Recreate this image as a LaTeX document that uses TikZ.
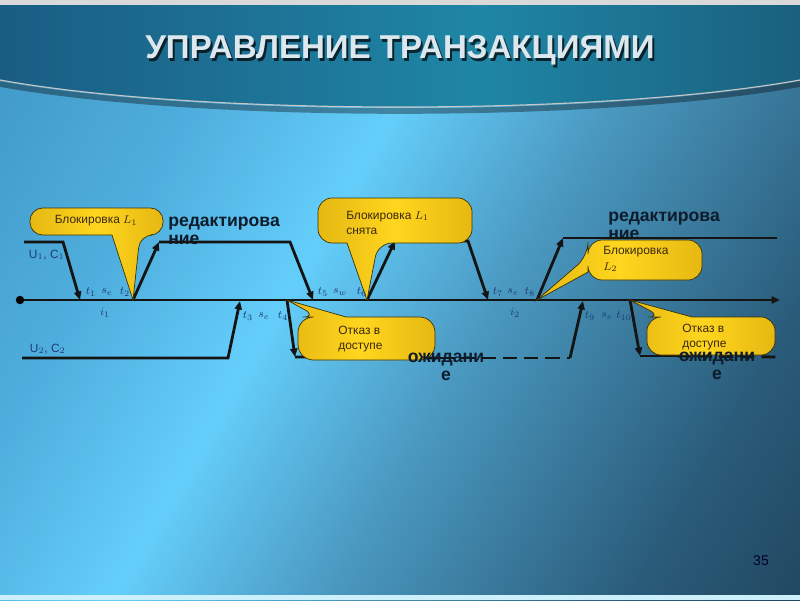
\documentclass[tikz,border=0pt]{standalone}
\usepackage{fontspec}
\setmainfont{Liberation Sans}
\usetikzlibrary{arrows.meta}

\definecolor{bgA}{HTML}{2F7FAE}
\definecolor{bgB}{HTML}{4FAEDD}
\definecolor{bgC}{HTML}{64CEFA}
\definecolor{bgD}{HTML}{4A98C0}
\definecolor{bgE}{HTML}{2A5C7A}
\definecolor{bgF}{HTML}{15293A}
\definecolor{bandA}{HTML}{163A66}
\definecolor{bandB}{HTML}{1F86A6}
\definecolor{bandC}{HTML}{152F4C}
\definecolor{goldA}{HTML}{B0860A}
\definecolor{goldB}{HTML}{E6B812}
\definecolor{goldC}{HTML}{FFD61E}
\definecolor{goldD}{HTML}{9A7806}
\definecolor{bubbleedge}{HTML}{3A3208}
\definecolor{bubbleink}{HTML}{3A2810}
\definecolor{labelblue}{HTML}{1D3D74}
\definecolor{inkdark}{HTML}{0D1B2B}
\definecolor{titlewhite}{HTML}{DCE8EE}

\pgfdeclarehorizontalshading{slidebg}{100bp}{color(0bp)=(bgA); color(31bp)=(bgB); color(43bp)=(bgC); color(56bp)=(bgD); color(74bp)=(bgE); color(100bp)=(bgF)}
\pgfdeclarehorizontalshading{bandbg}{100bp}{color(0bp)=(bandA); color(55bp)=(bandB); color(100bp)=(bandC)}
\pgfdeclarehorizontalshading{goldbar}{100bp}{color(0bp)=(goldA); color(25bp)=(goldB); color(50bp)=(goldC); color(75bp)=(goldB); color(100bp)=(goldD)}

\begin{document}
\begin{tikzpicture}[
  x=0.025cm,
  y=-0.025cm,
  >={Triangle[length=6pt,width=5pt]},
  track/.style={line width=2pt, draw=black!92},
  bubble/.style={shade, shading=goldbar, draw=bubbleedge, line width=0.5pt},
  bubbletext/.style={text=bubbleink, font=\fontsize{8.5}{11}\selectfont, align=left, inner sep=0pt},
  tlabel/.style={text=labelblue, font=\fontsize{8}{9}\selectfont, inner sep=0pt},
  state/.style={text=inkdark, font=\fontsize{12.5}{12.3}\bfseries, inner sep=0pt},
]
\useasboundingbox (0,0) rectangle (800,600);
\shade[shading=slidebg, shading angle=-30] (0,0) rectangle (800,600);
\fill[white!80!cyan] (0,595) rectangle (800,600);
\shade[shading=bandbg] (0,0) -- (800,0) -- (800,80) .. controls (600,116) and (200,116) .. (0,80) -- cycle;
\draw[black, opacity=0.35, line width=4pt] (0,84) .. controls (200,120) and (600,120) .. (800,84);
\draw[gray!45, line width=0.8pt] (0,80) .. controls (200,116) and (600,116) .. (800,80);
\fill[gray!30] (0,0) rectangle (800,5);

\node[text=black, opacity=0.7, font=\fontsize{23.5}{27}\bfseries] (titleshadow) at (402,53) {УПРАВЛЕНИЕ ТРАНЗАКЦИЯМИ};
\node[text=titlewhite, font=\fontsize{23.5}{27}\bfseries] (title) at (400,50) {УПРАВЛЕНИЕ ТРАНЗАКЦИЯМИ};

\node[state, align=left, anchor=base west] (edit1) at (168,244) {редактирова\\ние};
\node[state, align=left, anchor=base west] (edit2) at (608,239) {редактирова\\ние};

\coordinate (start) at (20,300);
\coordinate (end) at (780,300);
\coordinate (t1) at (80,300);
\coordinate (t2) at (133,300);
\coordinate (t3) at (240,301);
\coordinate (t4) at (287,300);
\coordinate (t5) at (313,300);
\coordinate (t6) at (367,300);
\coordinate (t7) at (488,300);
\coordinate (t8) at (537,300);
\coordinate (t9) at (583,301);
\coordinate (t10) at (630,300);

\coordinate (a1) at (24,242);
\coordinate (a2) at (63,242);
\coordinate (b1) at (159,242);
\coordinate (b2) at (290,242);
\coordinate (c1) at (395,241);
\coordinate (c2) at (468,241);
\coordinate (d1) at (563,238);
\coordinate (d2) at (777,238);
\coordinate (p1) at (22,358);
\coordinate (p2) at (228,358);
\coordinate (q1) at (295,357);
\coordinate (q2) at (440,358);
\coordinate (q3) at (570,358);
\coordinate (r1) at (640,356);
\coordinate (r2) at (780,357);

\draw[track,->] (start) -- (end);
\fill[black] (start) circle[radius=3pt];

\draw[track,->] (a1) -- (a2) -- (t1);
\draw[track,->] (t2) -- (b1);
\draw[track,->] (b1) -- (b2) -- (t5);
\draw[track,->] (t6) -- (c1);
\draw[track,->] (c1) -- (c2) -- (t7);
\draw[track,->] (t8) -- (d1);
\draw[track] (d1) -- (d2);

\draw[track,->] (p1) -- (p2) -- (t3);
\draw[track,->] (t4) -- (q1);
\draw[track] (q1) -- (q2);
\draw[track, dash pattern=on 10pt off 5pt] (q2) -- (q3);
\draw[track,->] (q3) -- (t9);
\draw[track,->] (t10) -- (r1);
\draw[track] (r1) -- (677,356);
\draw[track, dash pattern=on 10pt off 5pt] (677,356) -- (r2);

\path[bubble] (t2) -- (112,235) [rounded corners=9pt] -- (30,235) -- (30,208) -- (163,208) -- (163,235) -- (140,235) [sharp corners] -- cycle;
\path[bubble] (t6) -- (347,243) [rounded corners=10pt] -- (318,243) -- (318,198) -- (472,198) -- (472,243) -- (378,243) [sharp corners] -- cycle;
\path[bubble] (t8) -- (588,272) [rounded corners=10pt] -- (588,280) -- (702,280) -- (702,240) -- (588,240) -- (588,256) [sharp corners] -- cycle;
\path[bubble] (t4) -- (346,317) [rounded corners=11pt] -- (435,317) -- (435,360) -- (298,360) -- (298,317) -- (318,317) [sharp corners] -- cycle;
\path[bubble] (t10) -- (692,317) [rounded corners=10pt] -- (775,317) -- (775,355) -- (647,355) -- (647,317) -- (662,317) [sharp corners] -- cycle;

\node[bubbletext] (lock1) at (96,221) {Блокировка $L_1$};
\node[bubbletext, anchor=west] (unlock1) at (346,223) {Блокировка $L_1$\\снята};
\node[bubbletext, anchor=west] (lock2) at (603,259) {Блокировка\\$L_2$};
\node[bubbletext, anchor=west] (deny1) at (338,339) {Отказ в\\доступе};
\node[bubbletext, anchor=west] (deny2) at (682,337) {Отказ в\\доступе};

\node[state, align=center, anchor=base] (wait1) at (446,380) {ожидани\\е};
\node[state, align=center, anchor=base] (wait2) at (717,379) {ожидани\\е};

\node[text=labelblue, font=\fontsize{8.5}{10}\selectfont, anchor=west] (user1) at (24,255) {U$_1$, C$_1$};
\node[text=labelblue, font=\fontsize{8.5}{10}\selectfont, anchor=west] (user2) at (25,349) {U$_2$, C$_2$};

\node[tlabel] (lt1) at (91,292) {$t_1$};
\node[tlabel] (ls1) at (107,292) {$s_e$};
\node[tlabel] (lt2) at (125,292) {$t_2$};
\node[tlabel] (li1) at (105,313) {$i_1$};
\node[tlabel] (lt3) at (248,316) {$t_3$};
\node[tlabel] (ls2) at (264,316) {$s_e$};
\node[tlabel] (lt4) at (283,316) {$t_4$};
\node[tlabel] (lt5) at (323,292) {$t_5$};
\node[tlabel] (ls3) at (340,292) {$s_w$};
\node[tlabel] (lt6) at (362,292) {$t_6$};
\node[tlabel] (lt7) at (498,292) {$t_7$};
\node[tlabel] (ls4) at (513,292) {$s_e$};
\node[tlabel] (lt8) at (530,292) {$t_8$};
\node[tlabel] (li2) at (515,313) {$i_2$};
\node[tlabel] (lt9) at (590,316) {$t_9$};
\node[tlabel] (ls5) at (607,316) {$s_e$};
\node[tlabel] (lt10) at (624,316) {$t_{10}$};

\node[text=black!85!blue, font=\fontsize{10}{12}\selectfont] (page) at (761,561) {35};
\end{tikzpicture}
\end{document}
